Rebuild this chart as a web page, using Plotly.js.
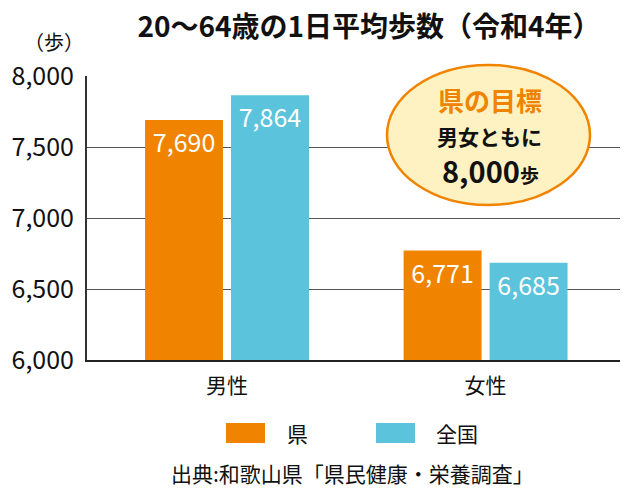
<!DOCTYPE html>
<html>
<head>
<meta charset="utf-8">
<script src="https://cdn.plot.ly/plotly-3.0.1.min.js"></script>
<style>html,body{margin:0;padding:0;background:#fff;}#chart{width:636px;height:495px;}</style>
</head>
<body>
<div id="chart"></div>
<script>
const categories = ['男性', '女性'];
const seriesNames = ['県', '全国'];
const prefValues = [7690, 6771];
const nationalValues = [7864, 6685];
const yTickValues = [6000, 6500, 7000, 7500, 8000];
const yTickLabels = ['6,000', '6,500', '7,000', '7,500', '8,000'];
const titleText = '20〜64歳の1日平均歩数（令和4年）';
const unitText = '（歩）';
const goalLines = ['県の目標', '男女ともに', '8,000<span style="font-size:19px">歩</span>'];
const sourceText = '出典:和歌山県「県民健康・栄養調査」';

const colors = ['#F08300', '#5BC3DB'];
const FONT = '"Noto Sans CJK JP", "Noto Sans", sans-serif';

const fmt = v => v.toLocaleString('en-US');

const traces = [prefValues, nationalValues].map((vals, i) => ({
  type: 'bar',
  name: seriesNames[i],
  x: categories,
  y: vals,
  marker: {color: colors[i], line: {width: 0}},
  text: vals.map(fmt),
  textposition: 'inside',
  insidetextanchor: 'end',
  textangle: 0,
  constraintext: 'none',
  textfont: {color: '#ffffff', size: 25, family: FONT},
  hoverinfo: 'skip',
  showlegend: false
}));

// plot area in pixels: x 87..620, y 76..360
const L = 87, R = 620, T = 76, B = 360;
const px = x => (x - L) / (R - L);
const py = y => (B - y) / (B - T);

const shapes = [
  {type: 'circle', xref: 'paper', yref: 'paper', x0: px(387), x1: px(590), y0: py(205), y1: py(65),
   fillcolor: '#FFF2C2', line: {color: '#F08300', width: 2.5}, layer: 'above'},
  {type: 'rect', xref: 'paper', yref: 'paper', x0: px(226), x1: px(265), y0: py(443), y1: py(423),
   fillcolor: colors[0], line: {width: 0}},
  {type: 'rect', xref: 'paper', yref: 'paper', x0: px(376), x1: px(415), y0: py(443), y1: py(423),
   fillcolor: colors[1], line: {width: 0}}
];

const annotations = [
  {xref: 'paper', yref: 'paper', x: px(54), y: py(42), text: unitText, showarrow: false,
   font: {size: 20, family: FONT, color: '#111'}, xanchor: 'center', yanchor: 'middle'},
  {xref: 'paper', yref: 'paper', x: px(490), y: py(99), text: '<b>' + goalLines[0] + '</b>', showarrow: false,
   font: {size: 26, family: FONT, color: '#F08300'}, xanchor: 'center', yanchor: 'middle'},
  {xref: 'paper', yref: 'paper', x: px(489), y: py(136), text: '<b>' + goalLines[1] + '</b>', showarrow: false,
   font: {size: 21, family: FONT, color: '#111'}, xanchor: 'center', yanchor: 'middle'},
  {xref: 'paper', yref: 'paper', x: px(490), y: py(170), text: '<b>' + goalLines[2] + '</b>', showarrow: false,
   font: {size: 29, family: FONT, color: '#111'}, xanchor: 'center', yanchor: 'middle'},
  {xref: 'paper', yref: 'paper', x: px(285), y: py(433), text: seriesNames[0], showarrow: false,
   font: {size: 21, family: FONT, color: '#111'}, xanchor: 'left', yanchor: 'middle'},
  {xref: 'paper', yref: 'paper', x: px(434), y: py(433), text: seriesNames[1], showarrow: false,
   font: {size: 21, family: FONT, color: '#111'}, xanchor: 'left', yanchor: 'middle'},
  {xref: 'paper', yref: 'paper', x: px(352), y: py(473), text: sourceText, showarrow: false,
   font: {size: 21, family: FONT, color: '#111'}, xanchor: 'center', yanchor: 'middle'}
];

const layout = {
  width: 636, height: 495,
  margin: {l: L, r: 636 - R, t: T, b: 495 - B, pad: 0},
  paper_bgcolor: '#ffffff', plot_bgcolor: '#ffffff',
  font: {family: FONT, color: '#111'},
  title: {text: '<b>' + titleText + '</b>', x: 369 / 636, xanchor: 'center', xref: 'container',
          y: 1 - 27 / 495, yanchor: 'middle', yref: 'container',
          font: {size: 28, family: FONT, color: '#111'}},
  barmode: 'group',
  bargap: 0.335,
  bargroupgap: 0.093,
  xaxis: {
    type: 'category',
    range: [-0.5416, 1.52],
    showline: true, linecolor: '#222', linewidth: 2,
    showgrid: false, ticks: '', ticklabelstandoff: 6,
    tickfont: {size: 21, family: FONT, color: '#111'},
    fixedrange: true
  },
  yaxis: {
    range: [6000, 8000],
    tickvals: yTickValues, ticktext: yTickLabels,
    showline: true, linecolor: '#333', linewidth: 2,
    showgrid: true, gridcolor: '#555', gridwidth: 1,
    ticks: '', ticklabelstandoff: 6,
    tickfont: {size: 25, family: FONT, color: '#111'},
    zeroline: false, fixedrange: true
  },
  shapes: shapes,
  annotations: annotations,
  showlegend: false
};

Plotly.newPlot('chart', traces, layout, {displayModeBar: false, staticPlot: true});
</script>
</body>
</html>
